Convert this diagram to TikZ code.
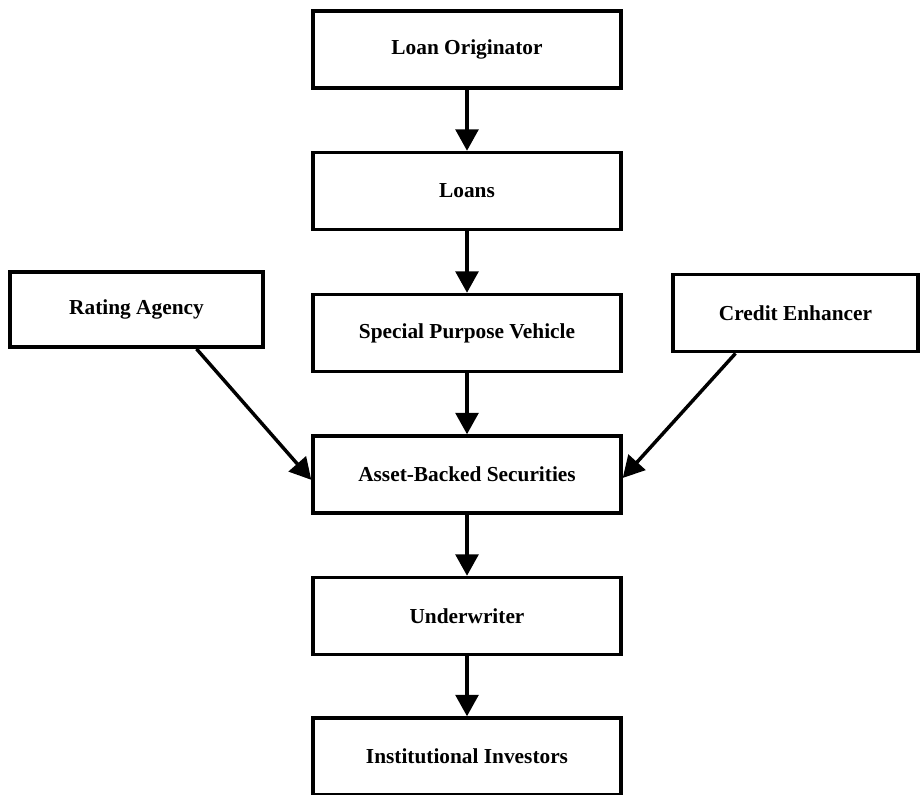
\documentclass[tikz,border=0pt]{standalone}
\usepackage{fontspec}
\setmainfont{Liberation Serif}
\usetikzlibrary{arrows.meta}
\begin{document}
\begin{tikzpicture}[x=0.75pt,y=-0.75pt,
  box/.style={draw=black, line width=2.6pt, fill=white, inner sep=0pt,
    minimum width=231pt, minimum height=57.75pt, font=\bfseries\fontsize{16}{18}\selectfont},
  sidebox/.style={box, minimum width=189.75pt, minimum height=56.5pt},
  flow/.style={line width=2.6pt, -{Triangle[width=17pt,length=16pt]}}]
\useasboundingbox (0,0) rectangle (920,795);
\node[box] (lo)  at (467,49.5)  {Loan Originator};
\node[box] (ln)  at (467,191)   {Loans};
\node[box] (spv) at (467,333)   {Special Purpose Vehicle};
\node[box] (abs) at (467,474.5) {Asset-Backed Securities};
\node[box] (uw)  at (467,616)   {Underwriter};
\node[box] (ii)  at (467,756.5) {Institutional Investors};
\node[sidebox] (ra) at (136.5,309.5) {Rating Agency};
\node[sidebox, minimum width=183.75pt, minimum height=58pt] (ce) at (795.5,313) {Credit Enhancer};
\draw[flow] (lo) -- (ln);
\draw[flow] (ln) -- (spv);
\draw[flow] (spv) -- (abs);
\draw[flow] (abs) -- (uw);
\draw[flow] (uw) -- (ii);
\draw[flow] ([xshift=45pt]ra.south) -- ([yshift=-4pt]abs.west);
\draw[flow] ([xshift=-45pt]ce.south) -- ([yshift=-2.6pt]abs.east);
\end{tikzpicture}
\end{document}
